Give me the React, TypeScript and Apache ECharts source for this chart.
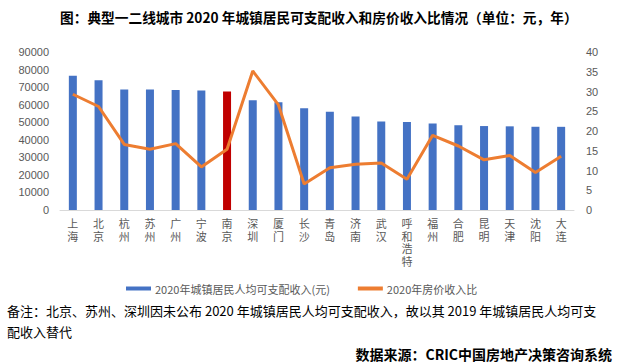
import React, { useEffect, useRef } from "react";
import * as echarts from "echarts";

const cities = ["上海","北京","杭州","苏州","广州","宁波","南京","深圳","厦门","长沙","青岛","济南","武汉","呼和浩特","福州","合肥","昆明","天津","沈阳","大连"];
const incomeValues = [76437,73849,68666,68629,68304,68008,67553,62522,61331,57971,55905,53329,50362,50100,49300,48283,47819,47659,47413,47380];
const ratioValues = [29.3,26.2,16.6,15.4,16.8,10.9,15.4,35.2,26.6,6.6,10.7,11.6,11.9,7.8,18.9,16.2,12.7,13.8,9.5,13.6];
const highlightCity = "南京";
const leftTicks = { min: 0, max: 90000, interval: 10000 };
const rightTicks = { min: 0, max: 40, interval: 5 };
const barName = "2020年城镇居民人均可支配收入(元)";
const lineName = "2020年房价收入比";
const titleText = "图：典型一二线城市 2020 年城镇居民可支配收入和房价收入比情况（单位：元，年）";
const noteLine1 = "备注：北京、苏州、深圳因未公布 2020 年城镇居民人均可支配收入，故以其 2019 年城镇居民人均可支";
const noteLine2 = "配收入替代";
const sourceText = "数据来源：CRIC中国房地产决策咨询系统";

const CJK = "'Noto Sans CJK SC', 'Liberation Sans', sans-serif";
const NUM = "'Liberation Sans', 'Noto Sans CJK SC', sans-serif";

export default function App() {
  const ref = useRef<HTMLDivElement>(null);
  useEffect(() => {
    document.body.style.margin = "0";
    const chart = echarts.init(ref.current!, undefined, { renderer: "svg" });
    chart.setOption({
      animation: false,
      backgroundColor: "#ffffff",
      grid: { left: 60, right: 47, top: 52, bottom: 153 },
      xAxis: {
        type: "category",
        data: cities,
        axisLine: { lineStyle: { color: "#D9D9D9", width: 1 } },
        axisTick: { show: false },
        axisLabel: {
          interval: 0,
          color: "#595959",
          fontFamily: CJK,
          fontSize: 11,
          lineHeight: 12.5,
          margin: 7,
          formatter: (v: string) => v.split("").join("\n"),
        },
      },
      yAxis: [
        {
          type: "value",
          ...leftTicks,
          splitLine: { show: false },
          axisLine: { show: false },
          axisTick: { show: false },
          axisLabel: { color: "#595959", fontFamily: NUM, fontSize: 11, margin: 11, formatter: (v: number) => String(v) },
        },
        {
          type: "value",
          ...rightTicks,
          splitLine: { show: false },
          axisLine: { show: false },
          axisTick: { show: false },
          axisLabel: { color: "#595959", fontFamily: NUM, fontSize: 11, margin: 12, formatter: (v: number) => String(v) },
        },
      ],
      legend: {
        left: 121,
        top: 278,
        itemWidth: 25,
        itemHeight: 4,
        itemGap: 28,
        textStyle: { color: "#595959", fontFamily: CJK, fontSize: 11, padding: [0, 0, 0, -1] },
        data: [
          { name: barName, icon: "rect" },
          { name: lineName, icon: "rect", itemStyle: { color: "#ED7D31" } },
        ],
      },
      series: [
        {
          name: barName,
          type: "bar",
          yAxisIndex: 0,
          barWidth: 8,
          itemStyle: { color: "#4472C4" },
          data: incomeValues.map((v, i) =>
            cities[i] === highlightCity ? { value: v, itemStyle: { color: "#C00000" } } : v
          ),
        },
        {
          name: lineName,
          type: "line",
          yAxisIndex: 1,
          showSymbol: false,
          symbol: "none",
          itemStyle: { color: "#ED7D31" },
          lineStyle: { color: "#ED7D31", width: 3 },
          data: ratioValues,
        },
      ],
      graphic: [
        {
          type: "text",
          left: 60,
          top: 10,
          style: { text: titleText, fontFamily: CJK, fontSize: 13.7, fontWeight: "bold", fill: "#000000" },
        },
        {
          type: "text",
          left: 7,
          top: 304,
          style: { text: noteLine1, fontFamily: CJK, fontSize: 13, fill: "#000000" },
        },
        {
          type: "text",
          left: 7,
          top: 325,
          style: { text: noteLine2, fontFamily: CJK, fontSize: 13, fill: "#000000" },
        },
        {
          type: "text",
          right: 9,
          top: 347,
          style: { text: sourceText, fontFamily: CJK, fontSize: 14, fontWeight: "bold", fill: "#000000" },
        },
      ],
    });
    return () => chart.dispose();
  }, []);
  return <div ref={ref} style={{ width: 621, height: 363 }} />;
}
